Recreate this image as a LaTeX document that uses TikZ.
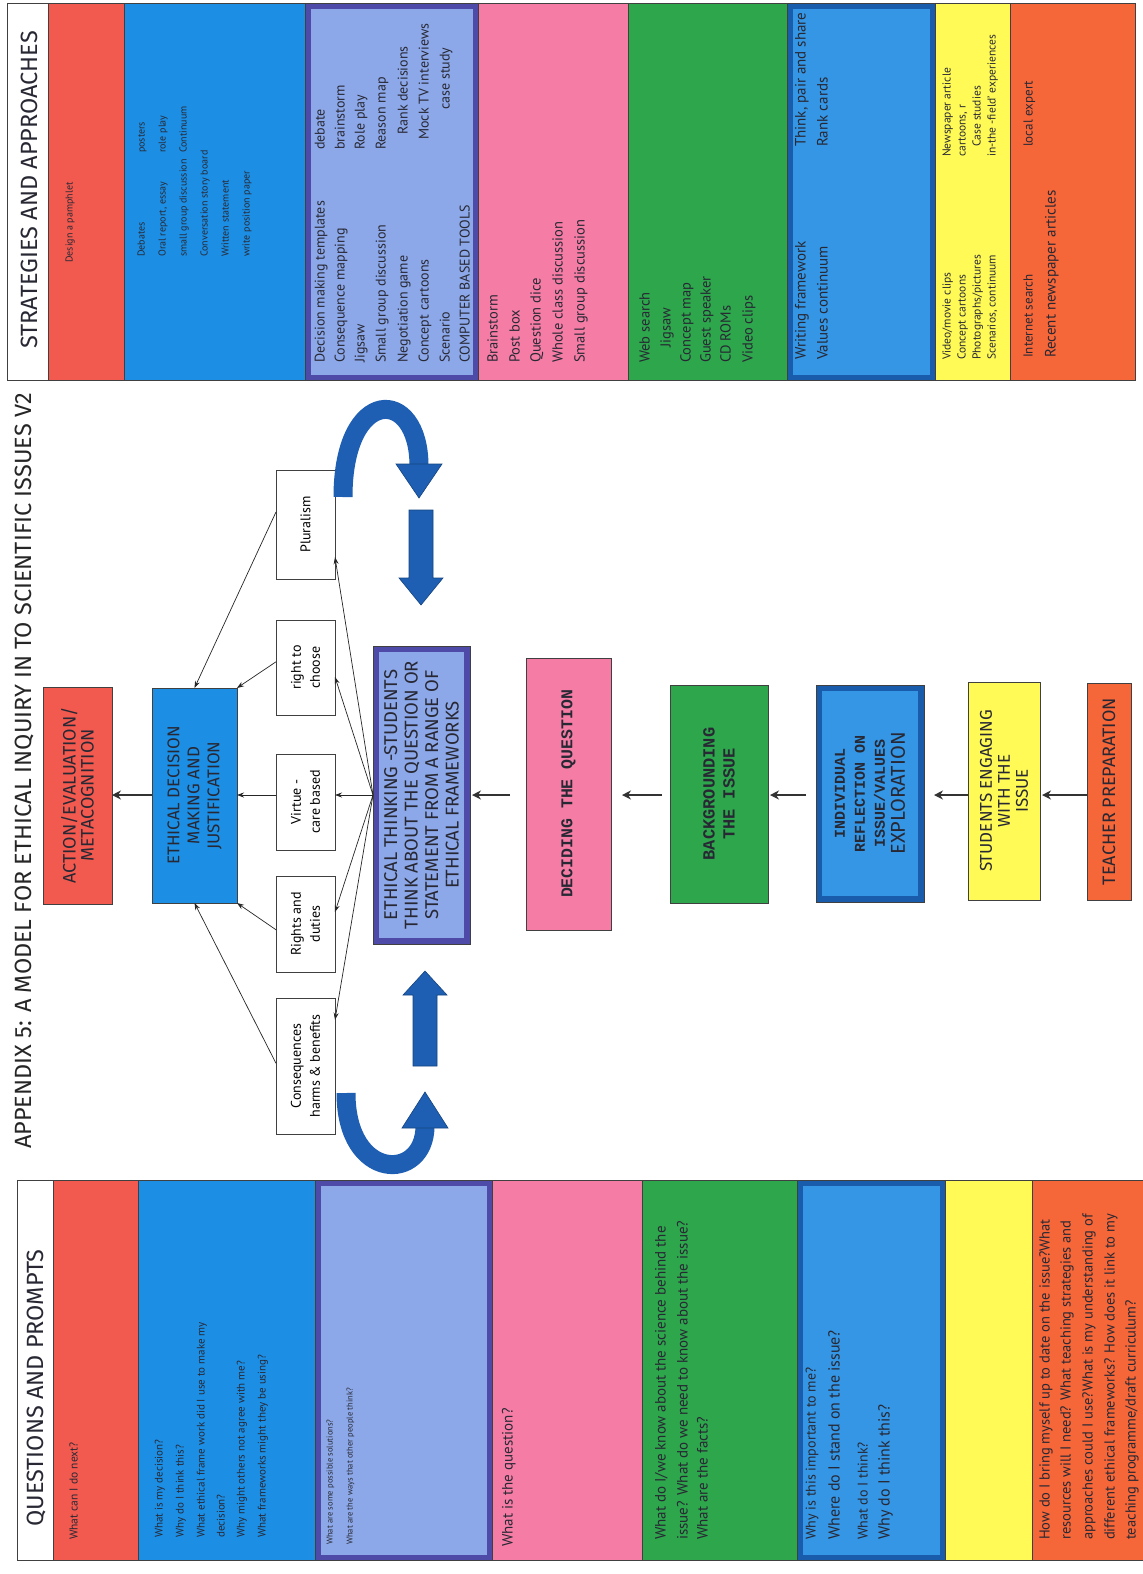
\documentclass[tikz,border=0pt]{standalone}
\usepackage{fontspec}
\setmainfont{PT Sans}
\newfontfamily\hdf{Fira Sans}
\newfontfamily\monof{Liberation Mono}
\usetikzlibrary{arrows.meta,calc}
\definecolor{cRed}{RGB}{242,90,80}
\definecolor{cBlue}{RGB}{28,142,228}
\definecolor{cPeri}{RGB}{140,168,232}
\definecolor{cPeriB}{RGB}{78,74,168}
\definecolor{cPink}{RGB}{245,125,165}
\definecolor{cGreen}{RGB}{46,166,76}
\definecolor{cBlueT}{RGB}{52,150,228}
\definecolor{cBlueTB}{RGB}{26,92,172}
\definecolor{cYellow}{RGB}{255,250,85}
\definecolor{cOrange}{RGB}{245,102,56}
\definecolor{cArrow}{RGB}{30,95,180}
\definecolor{cTxt}{RGB}{40,40,52}
\newcommand\mytl[5][]{\node[tl,#1] (#2) at (#3,#4) {#5};}
\begin{document}
\begin{tikzpicture}[x=1pt,y=-1pt,
  tl/.style={rotate=90, anchor=mid west, inner sep=0pt, text=cTxt},
  fs/.style={font=\fontsize{#1}{#1}\selectfont},
  lbl/.style={rotate=90, align=center, inner sep=0pt, text=cTxt},
  strip/.style={draw=black!75, line width=0.8pt},
  boxn/.style={draw=black!75, line width=0.8pt, inner sep=0pt, outer sep=0pt},
  fwbox/.style={boxn, fill=white, minimum width=59pt},
  thinarr/.style={draw=black!85, line width=0.7pt, -{Stealth[length=7pt,width=5pt]}},
  axarr/.style={draw=black!80, line width=2.6pt, -{Stealth[length=9pt,width=9pt]}},
  blockarr/.style={fill=cArrow, draw=cArrow!70!black, line width=0.6pt},
  band/.style={draw=cArrow, line width=19pt}
]
\useasboundingbox (0,0) rectangle (1143,1574);
\fill[white] (0,0) rectangle (1143,1574);
\coordinate (axis) at (0,795);

% ---------- top panel: strategies and approaches ----------
\path[strip, fill=white] (7,3) rectangle (48,380);
\path[strip, fill=cRed] (48,3) rectangle (124,380);
\path[strip, fill=cBlue] (124,3) rectangle (305,380);
\path[strip, fill=cPeri] (305,3) rectangle (478,380);
\draw[cPeriB, line width=5pt] (308,6) rectangle (475,377);
\path[strip, fill=cPink] (478,3) rectangle (628,380);
\path[strip, fill=cGreen] (628,3) rectangle (787,380);
\path[strip, fill=cBlueT] (787,3) rectangle (935,380);
\draw[cBlueTB, line width=5pt] (790,6) rectangle (932,377);
\path[strip, fill=cYellow] (935,3) rectangle (1010,380);
\path[strip, fill=cOrange] (1010,3) rectangle (1135,380);

\node[lbl, font=\hdf\fontsize{23.5}{25}\selectfont] (hS) at (29,190) {STRATEGIES AND APPROACHES};
\mytl[fs=10]{sR1}{70}{263}{Design a pamphlet}
\mytl[fs=10]{sB1}{142}{257}{Debates}
\mytl[fs=10]{sB2}{163}{257}{Oral report, essay}
\mytl[fs=10]{sB3}{184}{257}{small group discussion}
\mytl[fs=10]{sB4}{205}{257}{Conversation story board}
\mytl[fs=10]{sB5}{226}{257}{Written statement}
\mytl[fs=10]{sB6}{247}{257}{write position paper}
\mytl[fs=10]{sB7}{142}{153}{posters}
\mytl[fs=10]{sB8}{163}{153}{role play}
\mytl[fs=10]{sB9}{184}{153}{Continuum}
\mytl[fs=14]{sP1}{322}{363}{Decision making templates}
\mytl[fs=14]{sP2}{342}{363}{Consequence mapping}
\mytl[fs=14]{sP3}{362}{363}{Jigsaw}
\mytl[fs=14]{sP4}{383}{363}{Small group discussion}
\mytl[fs=14]{sP5}{405}{363}{Negotiation game}
\mytl[fs=14]{sP6}{426}{363}{Concept cartoons}
\mytl[fs=14]{sP7}{447}{363}{Scenario}
\mytl[fs=14]{sP8}{467}{363}{COMPUTER BASED TOOLS}
\mytl[fs=14]{sP9}{322}{150}{debate}
\mytl[fs=14]{sP10}{342}{150}{brainstorm}
\mytl[fs=14]{sP11}{362}{150}{Role play}
\mytl[fs=14]{sP12}{383}{150}{Reason map}
\mytl[fs=14]{sP13}{405}{135}{Rank decisions}
\mytl[fs=14]{sP14}{426}{140}{Mock TV interviews}
\mytl[fs=14]{sP15}{447}{110}{case study}
\mytl[fs=14.5]{sK1}{495}{363}{Brainstorm}
\mytl[fs=14.5]{sK2}{517}{363}{Post box}
\mytl[fs=14.5]{sK3}{538}{363}{Question dice}
\mytl[fs=14.5]{sK4}{560}{363}{Whole class discussion}
\mytl[fs=14.5]{sK5}{582}{363}{Small group discussion}
\mytl[fs=14.5]{sG1}{647}{363}{Web search}
\mytl[fs=14.5]{sG2}{668}{348}{Jigsaw}
\mytl[fs=14.5]{sG3}{688}{363}{Concept map}
\mytl[fs=14.5]{sG4}{708}{363}{Guest speaker}
\mytl[fs=14.5]{sG5}{728}{363}{CD ROMs}
\mytl[fs=14.5]{sG6}{750}{363}{Video clips}
\mytl[fs=15]{sT1}{803}{360}{Writing framework}
\mytl[fs=15]{sT2}{825}{360}{Values continuum}
\mytl[fs=15]{sT3}{803}{147}{Think, pair and share}
\mytl[fs=15]{sT4}{825}{147}{Rank cards}
\mytl[fs=11.5]{sY1}{948}{360}{Video/movie clips}
\mytl[fs=11.5]{sY2}{963}{360}{Concept cartoons}
\mytl[fs=11.5]{sY3}{978}{360}{Photographs/pictures}
\mytl[fs=11.5]{sY4}{993}{360}{Scenarios, continuum}
\mytl[fs=11.5]{sY5}{948}{157}{Newspaper article}
\mytl[fs=11.5]{sY6}{963}{157}{cartoons, r}
\mytl[fs=11.5]{sY7}{978}{147}{Case studies}
\mytl[fs=11.5]{sY8}{993}{157}{in-the -field' experiences}
\mytl[fs=13]{sO1}{1030}{358}{Internet search}
\mytl[fs=15]{sO2}{1053}{358}{Recent newspaper articles}
\mytl[fs=13]{sO3}{1030}{147}{local expert}

% ---------- bottom panel: questions and prompts ----------
\path[strip, fill=white] (17,1180) rectangle (53,1560);
\path[strip, fill=cRed] (53,1180) rectangle (138,1560);
\path[strip, fill=cBlue] (138,1180) rectangle (315,1560);
\path[strip, fill=cPeri] (315,1180) rectangle (492,1560);
\draw[cPeriB, line width=5pt] (318,1183) rectangle (489,1557);
\path[strip, fill=cPink] (492,1180) rectangle (642,1560);
\path[strip, fill=cGreen] (642,1180) rectangle (797,1560);
\path[strip, fill=cBlueT] (797,1180) rectangle (945,1560);
\draw[cBlueTB, line width=5pt] (800,1183) rectangle (942,1557);
\path[strip, fill=cYellow] (945,1180) rectangle (1032,1560);
\path[strip, fill=cOrange] (1032,1180) rectangle (1150,1560);

\node[lbl, font=\hdf\fontsize{23.5}{25}\selectfont] (hQ) at (36,1388) {QUESTIONS AND PROMPTS};
\mytl[fs=11.5]{qR1}{75}{1540}{What can I do next?}
\mytl[fs=11]{qB1}{160}{1538}{What is my decision?}
\mytl[fs=11]{qB2}{181}{1538}{Why do I think this?}
\mytl[fs=11]{qB3}{202}{1538}{What ethical frame work did I use to make my}
\mytl[fs=11]{qB4}{222}{1538}{decision?}
\mytl[fs=11]{qB5}{242}{1538}{Why might others not agree with me?}
\mytl[fs=11]{qB6}{263}{1538}{What frameworks might they be using?}
\mytl[fs=8.5]{qP1}{330}{1545}{What are some possible solutions?}
\mytl[fs=8.5]{qP2}{350}{1545}{What are the ways that other people think?}
\mytl[fs=15]{qK1}{510}{1547}{What is the question?}
\mytl[fs=15]{qG1}{663}{1540}{What do I/we know about the science behind the}
\mytl[fs=15]{qG2}{685}{1540}{issue? What do we need to know about the issue?}
\mytl[fs=15]{qG3}{705}{1540}{What are the facts?}
\mytl[fs=14]{qT1}{813}{1540}{Why is this important to me?}
\mytl[fs=16]{qT2}{837}{1540}{Where do I stand on the issue?}
\mytl[fs=14]{qT3}{865}{1540}{What do I think?}
\mytl[fs=16]{qT4}{887}{1540}{Why do I think this?}
\mytl[fs=14.5]{qO1}{1047}{1540}{How do I bring myself up to date on the issue?What}
\mytl[fs=14.5]{qO2}{1068}{1540}{resources will I need? What teaching strategies and}
\mytl[fs=14.5]{qO3}{1090}{1540}{approaches could I use?What is my understanding of}
\mytl[fs=14.5]{qO4}{1112}{1540}{different ethical frameworks? How does it link to my}
\mytl[fs=14.5]{qO5}{1133}{1540}{teaching programme/draft curriculum?}

% ---------- title ----------
\node[lbl, text=black!85, font=\hdf\fontsize{23.5}{26}\selectfont] (title) at (24,771) {APPENDIX 5: A MODEL FOR ETHICAL INQUIRY IN TO SCIENTIFIC ISSUES V2};

% ---------- central flow ----------
\node[boxn, fill=cRed, minimum width=69pt, minimum height=217pt] (action) at (77.5,795.5) {};
\node[lbl, font=\hdf\fontsize{18}{18}\selectfont] (actionT) at (action.center) {ACTION/EVALUATION/\\METACOGNITION};

\node[boxn, fill=cBlue, minimum width=85pt, minimum height=215pt] (decision) at (194.5,795.5) {};
\node[lbl, font=\hdf\fontsize{17}{20}\selectfont] (decisionT) at (decision.center) {ETHICAL DECISION\\MAKING AND\\JUSTIFICATION};

\node[fwbox, minimum height=109pt] (plur) at (305.5,524.5) {};
\node[fwbox, minimum height=95pt] (rtc) at (305.5,667.5) {};
\node[fwbox, minimum height=96pt] (virt) at (305.5,802) {};
\node[fwbox, minimum height=96pt] (rights) at (305.5,924) {};
\node[fwbox, minimum height=136pt] (cons) at (305.5,1066) {};
\node[lbl, text=black, font=\fontsize{14}{19}\selectfont] (plurT) at (plur.center) {Pluralism};
\node[lbl, text=black, font=\fontsize{14}{19}\selectfont] (rtcT) at (rtc.center) {right to\\choose};
\node[lbl, text=black, font=\fontsize{14}{19}\selectfont] (virtT) at (virt.center) {Virtue -\\care based};
\node[lbl, text=black, font=\fontsize{14}{19}\selectfont] (rightsT) at (rights.center) {Rights and\\duties};
\node[lbl, text=black, font=\fontsize{14}{19}\selectfont] (consT) at (cons.center) {Consequences\\harms \& benefits};

\node[boxn, fill=cPeriB, minimum width=97pt, minimum height=298pt] (ethink) at (421.5,795) {};
\fill[cPeri] ($(ethink.north west)+(6,6)$) rectangle ($(ethink.south east)+(-6,-6)$);
\node[lbl, font=\hdf\fontsize{18.5}{20.5}\selectfont] (ethinkT) at (ethink.center) {ETHICAL THINKING -STUDENTS\\THINK ABOUT THE QUESTION OR\\STATEMENT FROM A RANGE OF\\ETHICAL FRAMEWORKS};

\node[boxn, fill=cPink, minimum width=85pt, minimum height=272pt] (deciding) at (568.5,794) {};
\node[lbl, font=\monof\bfseries\fontsize{16.5}{20}\selectfont] (decidingT) at (deciding.center) {DECIDING THE QUESTION};

\node[boxn, fill=cGreen, minimum width=98pt, minimum height=218pt] (bg) at (719,794) {};
\node[lbl, font=\monof\bfseries\fontsize{17}{20}\selectfont] (bgT) at (bg.center) {BACKGROUNDING\\THE ISSUE};

\node[boxn, fill=cBlueTB, minimum width=108pt, minimum height=217pt] (indiv) at (870,793.5) {};
\fill[cBlueT] ($(indiv.north west)+(6,6)$) rectangle ($(indiv.south east)+(-6,-6)$);
\node[lbl, font=\monof\bfseries\fontsize{15}{20}\selectfont] (indivT) at (indiv.center) {INDIVIDUAL\\REFLECTION ON\\ISSUE/VALUES\\{\hdf\mdseries\fontsize{20}{21}\selectfont EXPLORATION}};

\node[boxn, fill=cYellow, minimum width=72pt, minimum height=218pt] (students) at (1004,791) {};
\node[lbl, font=\hdf\fontsize{17}{18}\selectfont] (studentsT) at (students.center) {STUDENTS ENGAGING\\WITH THE\\ISSUE};

\node[boxn, fill=cOrange, minimum width=44pt, minimum height=217pt] (teacher) at (1109,791.5) {};
\node[lbl, font=\hdf\fontsize{18}{18}\selectfont] (teacherT) at (teacher.center) {TEACHER PREPARATION};

% main axis arrows
\draw[axarr] (teacher.west |- axis) -- ([xshift=2pt]students.east |- axis);
\draw[axarr, shorten >=10pt] (students.west |- axis) -- (indiv.east |- axis);
\draw[axarr, shorten <=10pt, shorten >=2pt] (indiv.west |- axis) -- (bg.east |- axis);
\draw[axarr, shorten <=8pt, shorten >=11pt] (bg.west |- axis) -- (deciding.east |- axis);
\draw[axarr, shorten <=16pt, shorten >=2pt] (deciding.west |- axis) -- (ethink.east |- axis);
\draw[axarr] (decision.west |- axis) -- (action.east |- axis);

% fan from ethical thinking to the frameworks
\coordinate (fan) at (ethink.west |- axis);
\draw[thinarr] (fan) -- ($(plur.north east)!0.8!(plur.south east)$);
\draw[thinarr] (fan) -- ($(rtc.north east)!0.6!(rtc.south east)$);
\draw[thinarr] (fan) -- (virt.east |- axis);
\draw[thinarr] (fan) -- ($(rights.north east)!0.375!(rights.south east)$);
\draw[thinarr] (fan) -- ($(cons.north east)!0.16!(cons.south east)$);

% frameworks to ethical decision
\draw[thinarr] ($(plur.north west)!0.385!(plur.south west)$) -- (decision.north);
\draw[thinarr] ($(rtc.north west)!0.44!(rtc.south west)$) -- (decision.north east);
\draw[thinarr] (virt.west |- axis) -- (decision.east |- axis);
\draw[thinarr] ($(rights.north west)!0.56!(rights.south west)$) -- (decision.south east);
\draw[thinarr] ($(cons.north west)!0.48!(cons.south west)$) -- (decision.south);

% ---------- block arrows ----------
\path[blockarr] (409,510) -- (433,510) -- (433,578) -- (443,578) -- (421,605) -- (399,578) -- (409,578) -- cycle;
\path[blockarr] (413,1066) -- (437,1066) -- (437,995) -- (447,995) -- (425,971) -- (403,995) -- (413,995) -- cycle;
\draw[band] (343,497) .. controls (343,386) and (419,386) .. (419,466);
\path[blockarr] (396,464) -- (442,464) -- (419,498) -- cycle;
\draw[band] (346,1093) .. controls (346,1182) and (425,1182) .. (425,1126);
\path[blockarr] (402,1128) -- (448,1128) -- (425,1092) -- cycle;
\end{tikzpicture}
\end{document}
